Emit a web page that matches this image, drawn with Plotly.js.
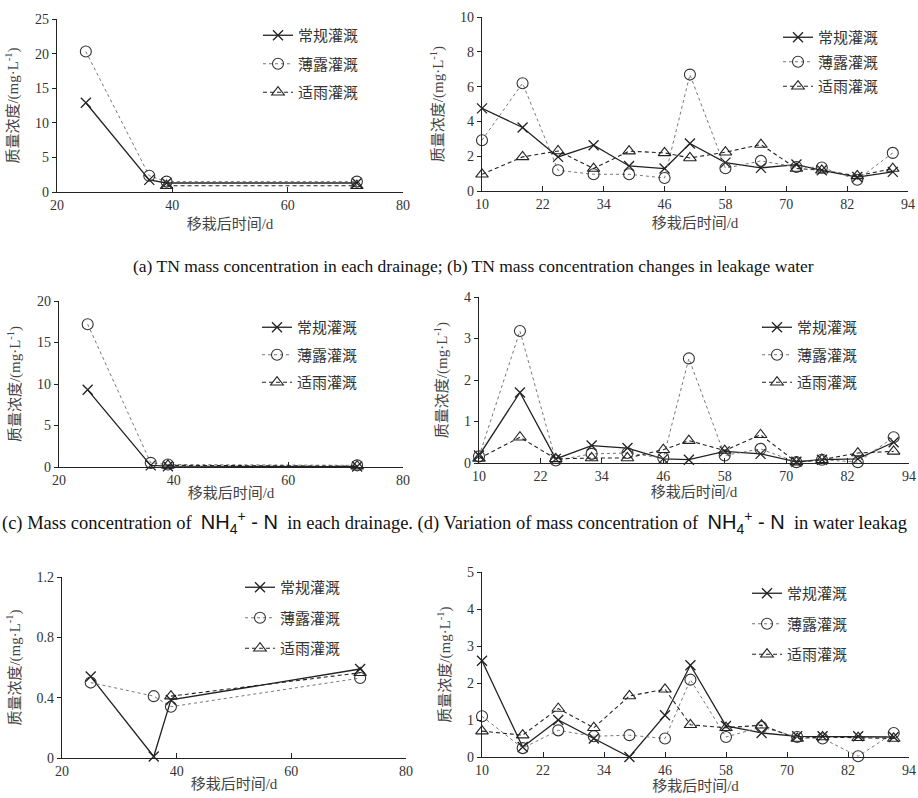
<!DOCTYPE html>
<html>
<head>
<meta charset="utf-8">
<script src="https://cdn.plot.ly/plotly-3.0.1.min.js"></script>
<style>html,body{margin:0;padding:0;background:#fff;}#chart{width:918px;height:798px;}</style>
</head>
<body>
<div id="chart"></div>
<script>
// ---- data ----
const seriesNames = ["常规灌溉", "薄露灌溉", "适雨灌溉"];
const xDrain = [25, 36, 39, 72];
const xDrainRain = [39, 72];
const xLeak = [10, 18, 25, 32, 39, 46, 51, 58, 65, 72, 77, 84, 91];

// (a) TN in drainage
const aConv = [12.9, 1.75, 1.3, 1.3];
const aThin = [20.3, 2.35, 1.5, 1.5];
const aRain = [0.9, 0.9];
// (b) TN in leakage
const bConv = [4.75, 3.65, 1.96, 2.63, 1.44, 1.29, 2.73, 1.63, 1.33, 1.52, 1.19, 0.80, 1.10];
const bThin = [2.92, 6.19, 1.19, 0.96, 0.96, 0.75, 6.69, 1.31, 1.73, 1.38, 1.35, 0.65, 2.19];
const bRain = [0.96, 1.96, 2.30, 1.29, 2.29, 2.19, 1.90, 2.23, 2.67, 1.29, 1.19, 0.87, 1.29];
// (c) NH4-N in drainage
const cConv = [9.3, 0.2, 0.1, 0.05];
const cThin = [17.2, 0.5, 0.3, 0.2];
const cRain = [0.2, 0.1];
// (d) NH4-N in leakage
const dConv = [0.18, 1.70, 0.10, 0.42, 0.36, 0.10, 0.08, 0.28, 0.22, 0.03, 0.08, 0.10, 0.50];
const dThin = [0.16, 3.18, 0.06, 0.22, 0.24, 0.12, 2.52, 0.18, 0.34, 0.02, 0.08, 0.02, 0.62];
const dRain = [0.11, 0.62, 0.10, 0.12, 0.12, 0.32, 0.54, 0.30, 0.68, 0.02, 0.08, 0.24, 0.28];
// (e) third panel, drainage
const eConv = [0.54, 0.01, 0.385, 0.59];
const eThin = [0.50, 0.41, 0.34, 0.53];
const eRain = [0.41, 0.565];
// (f) third panel, leakage
const fConv = [2.60, 0.27, 1.00, 0.50, 0.00, 1.13, 2.48, 0.84, 0.65, 0.56, 0.56, 0.56, 0.54];
const fThin = [1.10, 0.24, 0.72, 0.56, 0.59, 0.50, 2.09, 0.54, 0.81, 0.54, 0.50, 0.02, 0.65];
const fRain = [0.70, 0.59, 1.31, 0.79, 1.65, 1.83, 0.87, 0.79, 0.86, 0.50, 0.54, 0.52, 0.50];

const caption1 = "(a) TN mass concentration in each drainage; (b) TN mass concentration changes in leakage water";
const nh4 = '<span style="font-family:Liberation Sans;font-size:20px">NH<sub>4</sub><sup>+</sup> - N</span>';
const caption2 = "(c) Mass concentration of  " + nh4 + "  in each drainage. (d) Variation of mass concentration of  " + nh4 + "  in water leakag";

// ---- styles ----
const styles = [
  {line: {color: "#222", width: 1.3, dash: "solid"}, marker: {symbol: "x-thin-open", size: 10, line: {color: "#222", width: 1.3}, color: "#222"}},
  {line: {color: "#777", width: 1, dash: "dot"}, marker: {symbol: "circle-open", size: 11, line: {color: "#333", width: 1.1}, color: "#333"}},
  {line: {color: "#222", width: 1.1, dash: "4px,3px"}, marker: {symbol: "triangle-up-open", size: 11, line: {color: "#222", width: 1.1}, color: "#222"}}
];

const traces = [];
function addPanel(idx, xs, ys, legendName) {
  const ax = idx === 1 ? "" : String(idx);
  for (let i = 0; i < 3; i++) {
    traces.push({
      type: "scatter", mode: "lines+markers",
      x: xs[i], y: ys[i], name: seriesNames[i],
      xaxis: "x" + ax, yaxis: "y" + ax,
      line: styles[i].line, marker: styles[i].marker,
      legend: legendName, legendgroup: legendName + i,
      cliponaxis: false
    });
  }
}
addPanel(1, [xDrain, xDrain, xDrainRain], [aConv, aThin, aRain], "legend");
addPanel(2, [xLeak, xLeak, xLeak], [bConv, bThin, bRain], "legend2");
addPanel(3, [xDrain, xDrain, xDrainRain], [cConv, cThin, cRain], "legend3");
addPanel(4, [xLeak, xLeak, xLeak], [dConv, dThin, dRain], "legend4");
addPanel(5, [xDrain, xDrain, xDrainRain], [eConv, eThin, eRain], "legend5");
addPanel(6, [xLeak, xLeak, xLeak], [fConv, fThin, fRain], "legend6");

const W = 918, H = 798;
function px(a, b) { return [a / W, b / W]; }
function py(top, bottom) { return [1 - bottom / H, 1 - top / H]; }

const mixFont = "Liberation Serif, Noto Sans CJK SC";
const tickFont = {family: "Liberation Serif", size: 14, color: "#333"};
const titleFontX = {family: mixFont, size: 15, color: "#444"};
const titleFontY = {family: mixFont, size: 15, color: "#444"};
const yTitle = "质量浓度/(mg·L<sup>-1</sup>)";

function xAxis(domain, range, dtick, anchor, standoff) {
  return {domain: domain, range: range, dtick: dtick, tick0: range[0], anchor: anchor,
    showline: true, linecolor: "#222", linewidth: 1.3, showgrid: false, zeroline: false,
    ticks: "inside", ticklen: 5, tickcolor: "#222", tickfont: tickFont,
    title: {text: "移栽后时间/d", font: titleFontX, standoff: standoff}, fixedrange: true};
}
function yAxis(domain, range, dtick, anchor) {
  return {domain: domain, range: range, dtick: dtick, tick0: 0, anchor: anchor,
    showline: true, linecolor: "#222", linewidth: 1.3, showgrid: false, zeroline: false,
    ticks: "outside", ticklen: 4, tickcolor: "#222", tickfont: tickFont,
    title: {text: yTitle, font: titleFontY, standoff: 12}, fixedrange: true};
}
function legendAt(x, y, gap) {
  return {x: x, y: y, xanchor: "left", yanchor: "top", bgcolor: "rgba(0,0,0,0)",
    font: {family: mixFont, size: 15, color: "#333"}, tracegroupgap: gap, traceorder: "grouped"};
}

const layout = {
  width: W, height: H, margin: {l: 0, r: 0, t: 0, b: 0},
  paper_bgcolor: "#fff", plot_bgcolor: "#fff", showlegend: true,
  xaxis: xAxis(px(57, 403), [20, 80], 20, "y", 6),
  yaxis: yAxis(py(19, 192), [0, 25], 5, "x"),
  xaxis2: xAxis(px(482, 908), [10, 94], 12, "y2", 6),
  yaxis2: yAxis(py(17, 191), [0, 10], 2, "x2"),
  xaxis3: xAxis(px(59, 403), [20, 80], 20, "y3", 0),
  yaxis3: yAxis(py(301, 467), [0, 20], 5, "x3"),
  xaxis4: xAxis(px(479, 909), [10, 94], 12, "y4", 0),
  yaxis4: yAxis(py(297, 463), [0, 4], 1, "x4"),
  xaxis5: xAxis(px(62, 406), [20, 80], 20, "y5", 0),
  yaxis5: yAxis(py(577, 758), [0, 1.2], 0.4, "x5"),
  xaxis6: xAxis(px(482, 909), [10, 94], 12, "y6", 0),
  yaxis6: yAxis(py(572, 757), [0, 5], 1, "x6"),
  legend: legendAt(258 / W, 1 - 19 / H, 6),
  legend2: legendAt(778 / W, 1 - 21 / H, 2),
  legend3: legendAt(257 / W, 1 - 311 / H, 5),
  legend4: legendAt(757 / W, 1 - 311 / H, 5),
  legend5: legendAt(240 / W, 1 - 571 / H, 8),
  legend6: legendAt(747 / W, 1 - 577 / H, 8),
  annotations: [
    {text: caption1, xref: "paper", yref: "paper", x: 473 / W, y: 1 - 266 / H, xanchor: "center", yanchor: "middle",
     showarrow: false, font: {family: "Liberation Serif", size: 17.5, color: "#111"}},
    {text: caption2, xref: "paper", yref: "paper", x: 0, y: 1 - 522 / H, xanchor: "left", yanchor: "middle",
     showarrow: false, font: {family: "Liberation Serif", size: 18.5, color: "#111"}}
  ]
};

Plotly.newPlot("chart", traces, layout, {staticPlot: true, displayModeBar: false});
</script>
</body>
</html>
